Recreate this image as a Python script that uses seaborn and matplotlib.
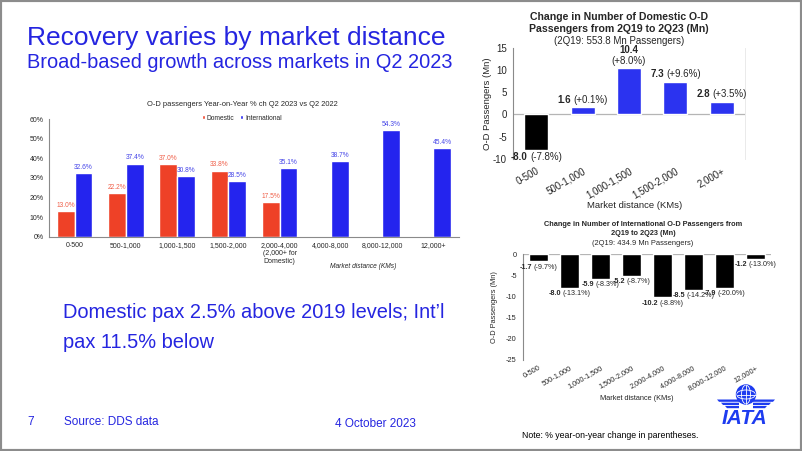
import numpy as np
import pandas as pd
import matplotlib.pyplot as plt
import matplotlib.patches as mpatches
from matplotlib.font_manager import FontProperties
from matplotlib.textpath import TextToPath
import seaborn as sns

# O-D passengers YoY % change, Q2 2023 vs Q2 2022
yoy_cats = ["0-500", "500-1,000", "1,000-1,500", "1,500-2,000",
            "2,000-4,000\n(2,000+ for\nDomestic)", "4,000-8,000", "8,000-12,000", "12,000+"]
yoy_dom = [13.0, 22.2, 37.0, 33.8, 17.5, np.nan, np.nan, np.nan]
yoy_intl = [32.6, 37.4, 30.8, 28.5, 35.1, 38.7, 54.3, 45.4]

# domestic change 2Q19 -> 2Q23 (Mn) and % change
dom_cats = ["0-500", "500-1,000", "1,000-1,500", "1,500-2,000", "2,000+"]
dom_chg = [-8.0, 1.6, 10.4, 7.3, 2.8]
dom_pct = [-7.8, 0.1, 8.0, 9.6, 3.5]

# international change 2Q19 -> 2Q23 (Mn) and % change
intl_cats = ["0-500", "500-1,000", "1,000-1,500", "1,500-2,000", "2,000-4,000",
             "4,000-8,000", "8,000-12,000", "12,000+"]
intl_chg = [-1.7, -8.0, -5.9, -5.2, -10.2, -8.5, -7.9, -1.2]
intl_pct = [-9.7, -13.1, -8.3, -8.7, -8.8, -14.2, -20.0, -13.0]

RED = "#EE4127"
BLUE = "#2424EE"
SLIDE_BLUE = "#2525E0"
LOGO_BLUE = "#1E3CF0"
GRAY = "#8a8a8a"

sns.set_theme(style="white")
plt.rcParams['font.family'] = ['Liberation Sans', 'DejaVu Sans']
plt.rcParams['axes.unicode_minus'] = False

fig = plt.figure(figsize=(8.02, 4.51), dpi=100)
W, H = 802.0, 451.0

def fx(px):
    return px / W

def fy(py):
    return 1 - py / H

# ---- decoration layer (logo) in pixel coords
deco = fig.add_axes([0, 0, 1, 1])
deco.set_xlim(0, W)
deco.set_ylim(H, 0)
deco.axis("off")
gx, gy, gr = 746, 394.5, 9.5
globe = mpatches.Circle((gx, gy), gr, color=LOGO_BLUE)
deco.add_patch(globe)
for e in [mpatches.Ellipse((gx, gy), 9, 2 * gr, fill=False, ec="white", lw=0.6),
          mpatches.Ellipse((gx, gy), 2 * gr, 9, fill=False, ec="white", lw=0.6)]:
    deco.add_patch(e)
    e.set_clip_path(globe)
deco.plot([gx, gx], [gy - gr, gy + gr], color="white", lw=0.6)
deco.plot([gx - gr, gx + gr], [gy, gy], color="white", lw=0.6)
for k in range(3):
    yt = 399.5 + k * 3.2
    xo = 717 + k * 4
    for s in (1, -1):
        pts = [(gx - s * 7, yt), (gx - s * (gx - xo), yt), (gx - s * (gx - xo - 2), yt + 2.3), (gx - s * 7, yt + 2.3)]
        deco.add_patch(mpatches.Polygon(pts, closed=True, color=LOGO_BLUE, lw=0))
deco.text(744, 418, "IATA", color=LOGO_BLUE, fontsize=15, fontweight="bold", style="italic",
          ha="center", va="center")

# ---- slide texts
fig.text(fx(27), fy(38), "Recovery varies by market distance", color=SLIDE_BLUE, fontsize=19, va="center")
fig.text(fx(27), fy(63), "Broad-based growth across markets in Q2 2023", color=SLIDE_BLUE, fontsize=14.4, va="center")
fig.text(fx(63), fy(312), "Domestic pax 2.5% above 2019 levels; Int\u2019l", color=SLIDE_BLUE, fontsize=14.4, va="center")
fig.text(fx(63), fy(342), "pax 11.5% below", color=SLIDE_BLUE, fontsize=14.4, va="center")
fig.text(fx(27), fy(422), "7", color=SLIDE_BLUE, fontsize=8.5, va="center")
fig.text(fx(64), fy(422), "Source: DDS data", color=SLIDE_BLUE, fontsize=8.5, va="center")
fig.text(fx(335), fy(424), "4 October 2023", color=SLIDE_BLUE, fontsize=8.5, va="center")
fig.text(fx(522), fy(435), "Note: % year-on-year change in parentheses.", color="black", fontsize=6.3, va="center")

# ---- left chart
yoy = pd.DataFrame({"dist": yoy_cats * 2,
                    "type": ["Domestic"] * len(yoy_cats) + ["International"] * len(yoy_cats),
                    "val": yoy_dom + yoy_intl}).dropna()
ax1 = fig.add_axes([fx(49), fy(236.7), fx(410), 117.4 / H])
sns.barplot(data=yoy, x="dist", y="val", hue="type", order=yoy_cats,
            hue_order=["Domestic", "International"], palette=[RED, BLUE],
            width=0.69, saturation=1, errorbar=None, ax=ax1)
ax1.set_ylim(0, 60)
ax1.set_xlim(-0.5, len(yoy_cats) - 0.5)
ax1.set_yticks(range(0, 61, 10))
ax1.set_yticklabels([f"{t}%" for t in range(0, 61, 10)], fontsize=5)
ax1.set_xticks(range(len(yoy_cats)))
ax1.set_xticklabels(yoy_cats, fontsize=5, linespacing=1.2)
ax1.tick_params(axis="y", length=2, width=0.5, color=GRAY, pad=2)
ax1.tick_params(axis="x", length=0, pad=4)
ax1.set_xlabel("")
ax1.set_ylabel("")
for sp in ["top", "right"]:
    ax1.spines[sp].set_visible(False)
for sp in ["left", "bottom"]:
    ax1.spines[sp].set_color(GRAY)
    ax1.spines[sp].set_linewidth(0.8)
dom_vals = [v for v in yoy_dom if not np.isnan(v)]
for cont, vals, col in zip(ax1.containers, [dom_vals, yoy_intl], ["#F0604A", "#4444E8"]):
    ax1.bar_label(cont, labels=[f"{v:.1f}%" for v in vals], fontsize=4.8, color=col, padding=1.5)
ax1.legend(loc="center", bbox_to_anchor=(0.47, 1.011), ncol=2, frameon=False, fontsize=4.8,
           handlelength=0.5, handleheight=0.5, handletextpad=0.3, columnspacing=0.8)
fig.text(fx(242), fy(105), "O-D passengers Year-on-Year % ch Q2 2023 vs Q2 2022",
         ha="center", va="center", fontsize=5.4)
fig.text(fx(363), fy(267), "Market distance (KMs)", ha="center", va="center", fontsize=4.8, style="italic")

t2p = TextToPath()


def text_w(s, size, weight):
    prop = FontProperties(family="Liberation Sans", size=size, weight=weight)
    return t2p.get_text_width_height_descent(s, prop, ismath=False)[0]


def change_labels(ax, vals, pcts, size, wrap_max=False):
    top = max(vals)
    for i, (v, p) in enumerate(zip(vals, pcts)):
        b = f"{v:.1f}"
        n = f"({p:+.1f}%)"
        if wrap_max and v == top:
            ax.annotate(n, (i, v), xytext=(0, 1.5), textcoords="offset points",
                        ha="center", va="bottom", fontsize=size)
            ax.annotate(b, (i, v), xytext=(0, 1.5 + size * 1.15), textcoords="offset points",
                        ha="center", va="bottom", fontsize=size, fontweight="bold")
            continue
        wb = text_w(b, size, "bold")
        wn = text_w(n, size, "normal")
        gap = 0.28 * size
        x0 = -(wb + gap + wn) / 2
        dy, va = (2, "bottom") if v >= 0 else (-1.5, "top")
        ax.annotate(b, (i, v), xytext=(x0, dy), textcoords="offset points",
                    ha="left", va=va, fontsize=size, fontweight="bold")
        ax.annotate(n, (i, v), xytext=(x0 + wb + gap, dy), textcoords="offset points",
                    ha="left", va=va, fontsize=size)


def style_change_axes(ax, tick_size):
    ax.set_xlabel("")
    ax.tick_params(axis="y", length=2.5, width=0.6, color=GRAY, pad=2, labelsize=tick_size)
    ax.tick_params(axis="x", length=0, pad=3, labelsize=tick_size)
    for lab in ax.get_xticklabels():
        lab.set_rotation(30)
        lab.set_ha("right")
        lab.set_rotation_mode("anchor")
    for sp in ["top", "bottom", "right"]:
        ax.spines[sp].set_visible(False)
    ax.spines["left"].set_color(GRAY)
    ax.spines["left"].set_linewidth(0.8)
    ax.axhline(0, color="#b5b5b5", lw=0.9, zorder=0.5)


# ---- top right chart
ax2 = fig.add_axes([fx(513), fy(159), fx(232), 111.3 / H])
dom_colors = ["black" if v < 0 else "#2B33F0" for v in dom_chg]
sns.barplot(x=dom_cats, y=dom_chg, hue=dom_cats, palette=dom_colors, legend=False,
            width=0.52, saturation=1, errorbar=None, ax=ax2)
ax2.set_ylim(-10, 15)
ax2.set_yticks(range(-10, 16, 5))
style_change_axes(ax2, 7)
ax2.tick_params(axis="x", pad=5)
ax2.spines["right"].set_visible(True)
ax2.spines["right"].set_color("#e6e6e6")
ax2.spines["right"].set_linewidth(0.6)
change_labels(ax2, dom_chg, dom_pct, 7, wrap_max=True)
ax2.set_ylabel("O-D Passengers (Mn)", fontsize=6.8)
ax2.yaxis.set_label_coords((492 - 513) / 232, 0.5)
ax2.set_xlabel("Market distance (KMs)", fontsize=6.8)
ax2.xaxis.set_label_coords((635 - 513) / 232, (159 - 201) / 111.3)
fig.text(fx(619), fy(17), "Change in Number of Domestic O-D", ha="center", va="center",
         fontsize=7.6, fontweight="bold")
fig.text(fx(619), fy(29), "Passengers from 2Q19 to 2Q23 (Mn)", ha="center", va="center",
         fontsize=7.6, fontweight="bold")
fig.text(fx(619), fy(40.5), "(2Q19: 553.8 Mn Passengers)", ha="center", va="center", fontsize=7)

# ---- bottom right chart
ax3 = fig.add_axes([fx(523), fy(360), fx(248), 105.7 / H])
sns.barplot(x=intl_cats, y=intl_chg, color="black", width=0.62, saturation=1,
            errorbar=None, ax=ax3)
ax3.set_ylim(-25, 0)
ax3.set_yticks(range(-25, 1, 5))
style_change_axes(ax3, 5.3)
change_labels(ax3, intl_chg, intl_pct, 5.2)
ax3.set_ylabel("O-D Passengers (Mn)", fontsize=5.3)
ax3.yaxis.set_label_coords((498 - 523) / 248, 0.5)
ax3.set_xlabel("Market distance (KMs)", fontsize=5.3)
ax3.xaxis.set_label_coords((637 - 523) / 248, (360 - 395) / 105.7)
fig.text(fx(643), fy(225), "Change in Number of International O-D Passengers from",
         ha="center", va="center", fontsize=5.3, fontweight="bold")
fig.text(fx(643), fy(234), "2Q19 to 2Q23 (Mn)", ha="center", va="center", fontsize=5.3, fontweight="bold")
fig.text(fx(643), fy(243.5), "(2Q19: 434.9 Mn Passengers)", ha="center", va="center", fontsize=5.4)

# slide frame
fig.patches.append(mpatches.Rectangle((0, 0), 1, 1, transform=fig.transFigure, fill=False,
                                      edgecolor="#8c8c8c", lw=3))

fig.savefig("out.png", dpi=100)
